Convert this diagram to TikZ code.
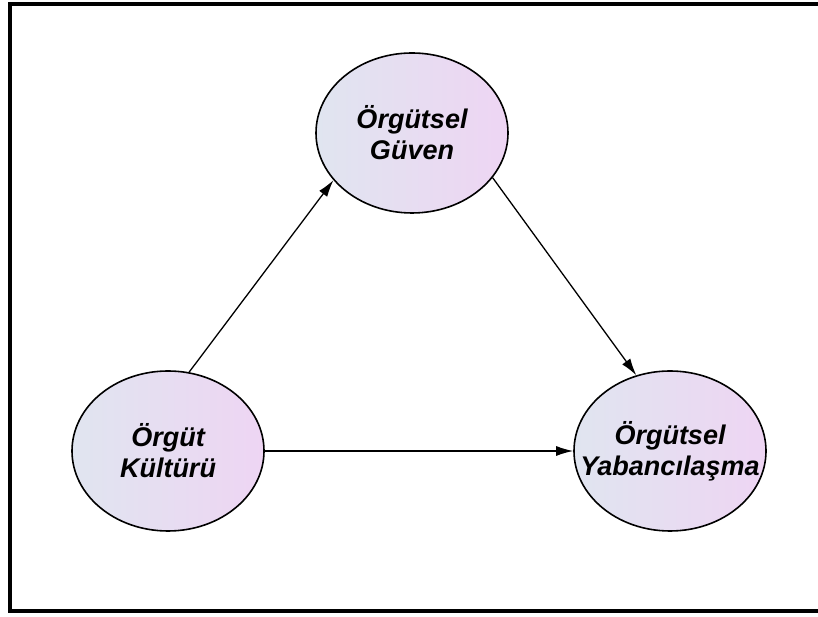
\documentclass[tikz,border=0pt]{standalone}
\usepackage{fontspec}
\setmainfont{Liberation Sans}
\usetikzlibrary{arrows.meta,shapes.geometric}
\definecolor{ovalsol}{HTML}{E0E5F0}
\definecolor{ovalsag}{HTML}{EED5F3}

\begin{document}
\begin{tikzpicture}[x=1pt, y=1pt,
	oval/.style={ellipse, draw=black, line width=1.6pt, minimum width=192pt, minimum height=160pt, left color=ovalsol, right color=ovalsag},
	metin/.style={align=center, font=\fontsize{27}{31}\selectfont\bfseries\itshape},
	ok/.style={line width=1.3pt, -{Latex[length=17pt,width=10pt]}}]
		%%%%% START %%%%%
		\useasboundingbox (0, 0) rectangle (818, 617);
		
		\draw[line width=4pt] (824, 613) -- (10, 613) -- (10, 6) -- (824, 6);
		
		\node[oval] (guven) at (412, 484) {};
		\node[metin] at (guven) {Örgütsel\\Güven};
		
		\node[oval] (kultur) at (168, 166) {};
		\node[metin] at (kultur) {Örgüt\\Kültürü};
		
		\node[oval] (yaban) at (670, 166) {};
		\node[metin] at (yaban) {Örgütsel\\Yabancılaşma};
		
		\draw[ok] (kultur.75) -- (guven.211);
		\draw[ok] (guven.-29) -- (yaban.114);
		\draw[ok] (kultur.east) -- (yaban.west);
		%%%%% END %%%%%
\end{tikzpicture}
\end{document}
